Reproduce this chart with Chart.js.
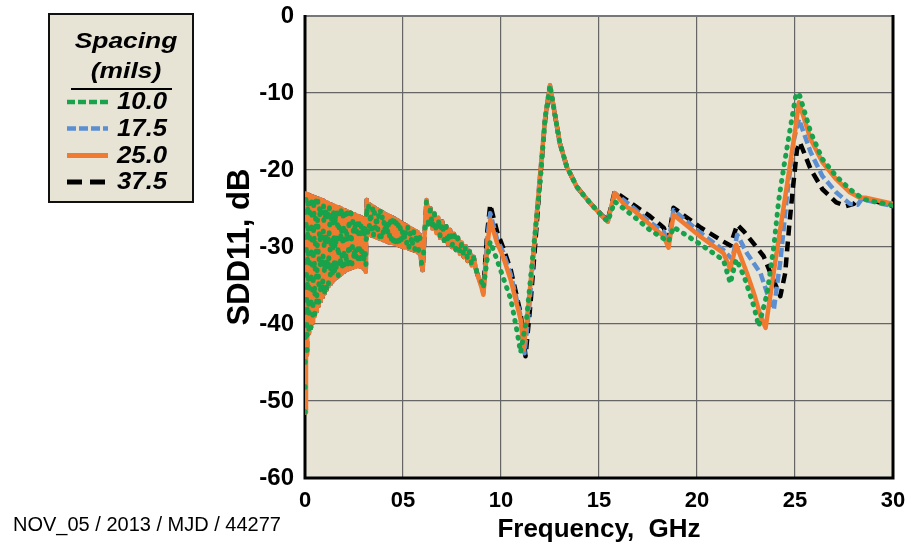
<!DOCTYPE html>
<html>
<head>
<meta charset="utf-8">
<script src="https://cdn.jsdelivr.net/npm/chart.js@4.4.0/dist/chart.umd.min.js"></script>
<style>
html,body{margin:0;padding:0;background:#ffffff;}
#wrap{position:relative;width:919px;height:545px;overflow:hidden;background:#ffffff;}
#chartBox{position:absolute;left:0;top:0;width:919px;height:545px;}
.lg{position:absolute;font-family:'Liberation Sans',Arial,sans-serif;font-weight:bold;font-style:italic;color:#000;white-space:nowrap;}
.ttl{text-align:center;transform:scaleX(1.2);transform-origin:center;}
.ent{transform:scaleX(1.12);transform-origin:left center;}
#legendBox{position:absolute;left:48px;top:13px;width:142px;height:186px;background:#E7E4D6;border:2px solid #111;}
#footer{position:absolute;left:13px;top:513px;font-family:'Liberation Sans',Arial,sans-serif;font-size:20px;line-height:23px;color:#000;white-space:nowrap;}
svg{position:absolute;left:0;top:0;pointer-events:none;}
</style>
</head>
<body>
<div id="wrap">
  <div id="chartBox"><canvas id="c"></canvas></div>
  <div id="legendBox"></div>
  <div class="lg ttl" style="left:53px;width:146px;top:28px;font-size:22px;line-height:26px;">Spacing</div>
  <div class="lg ttl" style="left:53px;width:146px;top:58px;font-size:22px;line-height:26px;">(mils)</div>
  <div style="position:absolute;left:71px;top:88px;width:101px;height:2px;background:#000;"></div>
  <div class="lg ent" id="lg0" style="left:117px;top:88px;font-size:23px;line-height:27px;"></div>
  <div class="lg ent" id="lg1" style="left:117px;top:115px;font-size:23px;line-height:27px;"></div>
  <div class="lg ent" id="lg2" style="left:117px;top:142px;font-size:23px;line-height:27px;"></div>
  <div class="lg ent" id="lg3" style="left:117px;top:168px;font-size:23px;line-height:27px;"></div>
  <svg width="919" height="545" id="lgsvg"></svg>
  <div id="footer">NOV_05 / 2013 / MJD / 44277</div>
</div>
<script>
// ---------------- DATA ----------------
const seriesNames = ['10.0', '17.5', '25.0', '37.5'];
const xTickLabels = ['0', '05', '10', '15', '20', '25', '30'];
const yTickLabels = ['-60', '-50', '-40', '-30', '-20', '-10', '0'];

// low-frequency ripple region, shared by all four spacings (they overlap there)
const rippleGHz = [
  0,0.05,0.1,0.15,0.2,0.25,0.3,0.35,0.4,0.45,0.5,0.55,0.6,0.65,0.7,0.75,0.8,0.85,0.9,0.95,
  1.0,1.05,1.1,1.15,1.2,1.25,1.3,1.35,1.4,1.45,1.5,1.55,1.6,1.65,1.7,1.75,1.8,1.85,1.9,1.95,
  2.0,2.05,2.1,2.15,2.2,2.25,2.3,2.35,2.4,2.45,2.5,2.55,2.6,2.65,2.7,2.75,2.8,2.85,2.9,2.95,
  3.0,3.05,3.1,3.15,
  3.2,3.25,3.3,3.35,3.4,3.45,3.5,3.55,3.6,3.65,3.7,3.75,3.8,3.85,3.9,3.95,
  4.0,4.05,4.1,4.15,4.2,4.25,4.3,4.35,4.4,4.45,4.5,4.55,4.6,4.65,4.7,4.75,4.8,4.85,4.9,4.95,
  5.0,5.05,5.1,5.15,5.2,5.25,5.3,5.35,5.4,5.45,5.5,5.55,5.6,5.65,5.7,5.75,5.8,5.85,5.9,5.95,
  6.0,6.1,6.2,
  6.3,6.4,6.5,6.6,6.7,6.8,6.9,7.0,7.1,7.2,7.3,7.4,7.5,7.6,7.7,7.8,7.9,8.0,8.1,8.2,8.3,8.4,8.5,8.6,8.7,8.8];
const rippleDb = [
  -51.5,-23.05,-44.0,-23.15,-41.2,-23.3,-40.5,-23.4,-39.8,-23.5,-39.0,-23.6,-38.3,-23.7,-37.6,-23.8,-37.0,-23.9,-36.5,-24.0,
  -36.0,-24.15,-35.5,-24.25,-35.1,-24.4,-34.8,-24.5,-34.5,-24.6,-34.2,-24.7,-34.0,-24.8,-33.8,-24.9,-33.6,-25.0,-33.4,-25.15,
  -33.2,-25.25,-33.0,-25.35,-32.9,-25.5,-32.8,-25.6,-32.7,-25.7,-32.6,-25.8,-32.5,-25.9,-32.5,-26.0,-32.5,-26.15,-32.6,-26.25,
  -32.8,-26.35,-33.2,-23.9,
  -28.3,-24.4,-28.4,-24.6,-28.5,-24.75,-28.6,-24.9,-28.7,-25.05,-28.8,-25.2,-28.9,-25.35,-29.0,-25.5,
  -29.1,-25.65,-29.2,-25.8,-29.3,-25.9,-29.4,-26.0,-29.45,-26.15,-29.5,-26.3,-29.6,-26.45,-29.7,-26.6,-29.8,-26.75,-29.9,-26.9,
  -30.0,-27.05,-30.05,-27.2,-30.1,-27.35,-30.2,-27.5,-30.3,-27.65,-30.4,-27.8,-30.5,-27.95,-30.6,-28.1,-30.8,-28.4,-31.2,-32.2,
  -33.0,-28.5,-23.9,
  -27.0,-25.0,-27.6,-25.6,-28.2,-26.2,-28.8,-26.7,-29.2,-27.3,-29.6,-27.8,-30.0,-28.3,-30.4,-28.8,-30.9,-29.4,-31.3,-29.9,-31.8,-30.5,-32.4,-31.3,-32.6,-33.6];

// 10.0 mils
const ghz10 = [9.0,9.1,9.3,9.45,9.8,10.1,10.5,10.8,11.0,11.3,11.6,12.0,12.25,12.5,12.77,13.0,13.36,13.87,14.55,15.2,15.45,15.8,16.8,17.6,18.55,18.8,20.2,21.35,21.7,22.0,22.4,22.9,23.15,23.58,23.92,24.17,24.43,24.77,25.03,25.2,25.8,26.4,27.1,27.8,28.5,30.0];
const db10  = [-34.5,-35.3,-31.5,-29.3,-31.7,-33.9,-36.8,-40.7,-43.7,-39.4,-31.7,-21.5,-13.3,-9.0,-13.1,-16.5,-19.6,-22.2,-24.3,-26.1,-26.7,-24.1,-26.1,-27.8,-29.3,-27.4,-29.7,-31.7,-34.7,-31.6,-33.8,-37.7,-40.3,-36.0,-29.9,-23.9,-19.6,-14.4,-10.5,-10.0,-15.1,-18.6,-20.8,-22.5,-23.8,-24.6];
// 17.5 mils
const ghz17 = [9.0,9.1,9.3,9.45,9.8,10.1,10.5,11.0,11.2,11.45,11.7,12.0,12.25,12.5,12.77,13.0,13.36,13.87,14.55,15.2,15.45,15.8,16.8,17.6,18.3,18.55,18.8,20.2,21.35,21.8,22.05,22.55,23.24,23.58,23.92,24.26,24.6,24.94,25.2,25.8,26.4,27.1,27.8,28.2,28.4,30.0];
const db17  = [-35.0,-36.0,-29.0,-25.6,-29.0,-30.6,-33.6,-39.0,-43.8,-37.5,-29.5,-20.5,-13.3,-9.0,-13.1,-16.5,-19.6,-22.2,-24.3,-26.1,-26.7,-23.0,-25.0,-26.8,-28.0,-29.5,-25.2,-28.2,-30.4,-31.6,-28.4,-30.8,-33.4,-36.0,-38.1,-31.7,-23.1,-16.1,-13.4,-17.7,-20.8,-22.9,-24.4,-24.5,-23.8,-24.7];
// 25.0 mils
const ghz25 = [9.0,9.1,9.3,9.45,9.8,10.1,10.5,11.0,11.15,11.4,11.7,12.0,12.25,12.5,12.77,13.0,13.36,13.87,14.55,15.2,15.45,15.8,16.4,16.8,17.6,18.3,18.55,18.8,20.2,21.35,21.7,22.0,22.55,22.9,23.25,23.5,24.0,24.5,25.0,25.2,25.8,26.4,27.1,27.8,28.3,28.6,30.0];
const db25  = [-35.2,-36.2,-30.0,-26.5,-29.5,-31.2,-34.3,-39.4,-43.3,-37.5,-29.5,-20.5,-13.3,-9.0,-13.1,-16.5,-19.6,-22.2,-24.3,-26.1,-26.7,-23.0,-24.8,-25.3,-27.1,-28.6,-30.1,-25.8,-28.7,-30.8,-32.9,-29.7,-33.4,-36.0,-39.0,-40.5,-31.8,-23.5,-15.0,-11.2,-16.0,-19.0,-21.2,-22.9,-23.6,-23.6,-24.4];
// 37.5 mils
const ghz37 = [9.0,9.1,9.3,9.45,9.8,10.1,10.5,11.0,11.25,11.5,11.75,12.0,12.25,12.5,12.77,13.0,13.36,13.87,14.55,15.2,15.45,15.8,16.8,17.6,18.3,18.55,18.8,20.2,21.35,21.7,22.05,22.4,23.0,23.4,23.75,24.25,24.5,24.7,24.9,25.1,25.25,25.8,26.4,27.1,27.6,28.0,28.3,29.0,30.0];
const db37  = [-34.8,-35.5,-28.0,-24.5,-28.0,-30.0,-33.0,-38.6,-44.2,-37.5,-29.5,-21.0,-13.5,-9.2,-13.1,-16.5,-19.6,-22.2,-24.3,-26.0,-26.5,-22.8,-24.6,-26.0,-27.5,-29.0,-24.9,-27.5,-29.3,-29.8,-27.1,-28.0,-29.9,-31.2,-33.4,-36.4,-33.4,-27.4,-22.2,-17.4,-16.4,-19.9,-22.5,-24.2,-24.7,-24.4,-23.6,-24.0,-24.7];

// ---------------- STYLE ----------------
const colors = {g:'#19A24C', b:'#5B8FD2', o:'#F07A30', k:'#000000'};
const BG = '#E7E4D6';
const FONT = "'Liberation Sans', Arial, sans-serif";

function pts(xs, ys) { return xs.map((x, i) => ({x: x, y: ys[i]})); }
function series(hx, hy) { return pts(rippleGHz.concat(hx), rippleDb.concat(hy)); }

// in the dense ripple the dotted green line leaves room for the orange beneath (as in the picture)
const greenDash = ctx => {
  const x = ctx.p0.parsed.x;
  if (x < 6.25) return [1, 24];
  if (x < 8.85) return [1, 12];
  return [1, 7.5];
};

const datasets = [
  {label: seriesNames[0], data: series(ghz10, db10), borderColor: colors.g, borderWidth: 5, borderDash: [1, 7.5], borderCapStyle: 'round', borderJoinStyle: 'round',
   segment: {borderDash: greenDash}},
  {label: seriesNames[2], data: series(ghz25, db25), borderColor: colors.o, borderWidth: 4.5, borderJoinStyle: 'round'},
  {label: seriesNames[1], data: series(ghz17, db17), borderColor: colors.b, borderWidth: 4.5, borderDash: [9, 4], borderJoinStyle: 'round'},
  {label: seriesNames[3], data: series(ghz37, db37), borderColor: colors.k, borderWidth: 4.5, borderDash: [10, 6], borderJoinStyle: 'round'}
].map(d => Object.assign({showLine: true, pointRadius: 0, pointHoverRadius: 0, tension: 0, fill: false}, d));

const framePlugin = {
  id: 'frame',
  beforeDraw(chart) {
    const a = chart.chartArea, ctx = chart.ctx;
    ctx.save(); ctx.fillStyle = BG; ctx.fillRect(a.left, a.top, a.right - a.left, a.bottom - a.top); ctx.restore();
  },
  beforeDatasetsDraw(chart) {
    const a = chart.chartArea, ctx = chart.ctx;
    ctx.save();
    ctx.strokeStyle = '#777'; ctx.lineWidth = 2;
    ctx.beginPath(); ctx.moveTo(a.left, a.top); ctx.lineTo(a.right, a.top); ctx.stroke();
    ctx.strokeStyle = '#000'; ctx.lineWidth = 3;
    ctx.beginPath(); ctx.moveTo(a.left, a.top - 1); ctx.lineTo(a.left, a.bottom); ctx.lineTo(a.right, a.bottom); ctx.lineTo(a.right, a.top - 1); ctx.stroke();
    ctx.restore();
  }
};

new Chart(document.getElementById('c'), {
  type: 'scatter',
  data: {datasets: datasets},
  options: {
    responsive: true, maintainAspectRatio: false, animation: false,
    layout: {padding: {left: 218, top: 16, right: 26, bottom: 0}},
    plugins: {legend: {display: false}, tooltip: {enabled: false}},
    scales: {
      x: {
        type: 'linear', min: 0, max: 30,
        afterFit: s => { s.height = 67; s.paddingLeft = 0; s.paddingRight = 0; },
        ticks: {stepSize: 5, padding: 10, color: '#000', font: {family: FONT, size: 22, weight: 'bold'},
          callback: v => xTickLabels[Math.round(v / 5)]},
        grid: {color: '#666', lineWidth: 1.2, drawTicks: false},
        border: {display: false},
        title: {display: true, text: 'Frequency,  GHz', color: '#000', font: {family: FONT, size: 26, weight: 'bold'}, padding: {top: 0, bottom: 0}}
      },
      y: {
        type: 'linear', min: -60, max: 0,
        afterFit: s => { s.width = 87; s.paddingTop = 0; s.paddingBottom = 0; },
        ticks: {stepSize: 10, padding: 11, color: '#000', font: {family: FONT, size: 24, weight: 'bold'},
          callback: v => yTickLabels[Math.round((v + 60) / 10)]},
        grid: {color: '#666', lineWidth: 1.2, drawTicks: false},
        border: {display: false},
        title: {display: true, text: 'SDD11, dB', color: '#000', font: {family: FONT, size: 31, weight: 'bold'}, padding: {top: 4, bottom: 4}}
      }
    }
  },
  plugins: [framePlugin]
});

// ---------------- LEGEND (HTML text + SVG samples) ----------------
const legendRows = [
  {name: seriesNames[0], y: 102, color: colors.g, dash: '8 3', w: 4.5},
  {name: seriesNames[1], y: 128.5, color: colors.b, dash: '9 3', w: 4.5},
  {name: seriesNames[2], y: 155.5, color: colors.o, dash: '', w: 5},
  {name: seriesNames[3], y: 182, color: colors.k, dash: '15 8', w: 5}
];
const svg = document.getElementById('lgsvg');
legendRows.forEach((r, i) => {
  document.getElementById('lg' + i).textContent = r.name;
  const ln = document.createElementNS('http://www.w3.org/2000/svg', 'line');
  ln.setAttribute('x1', 67); ln.setAttribute('x2', 108);
  ln.setAttribute('y1', r.y); ln.setAttribute('y2', r.y);
  ln.setAttribute('stroke', r.color); ln.setAttribute('stroke-width', r.w);
  if (r.dash) ln.setAttribute('stroke-dasharray', r.dash);
  svg.appendChild(ln);
});
</script>
</body>
</html>
